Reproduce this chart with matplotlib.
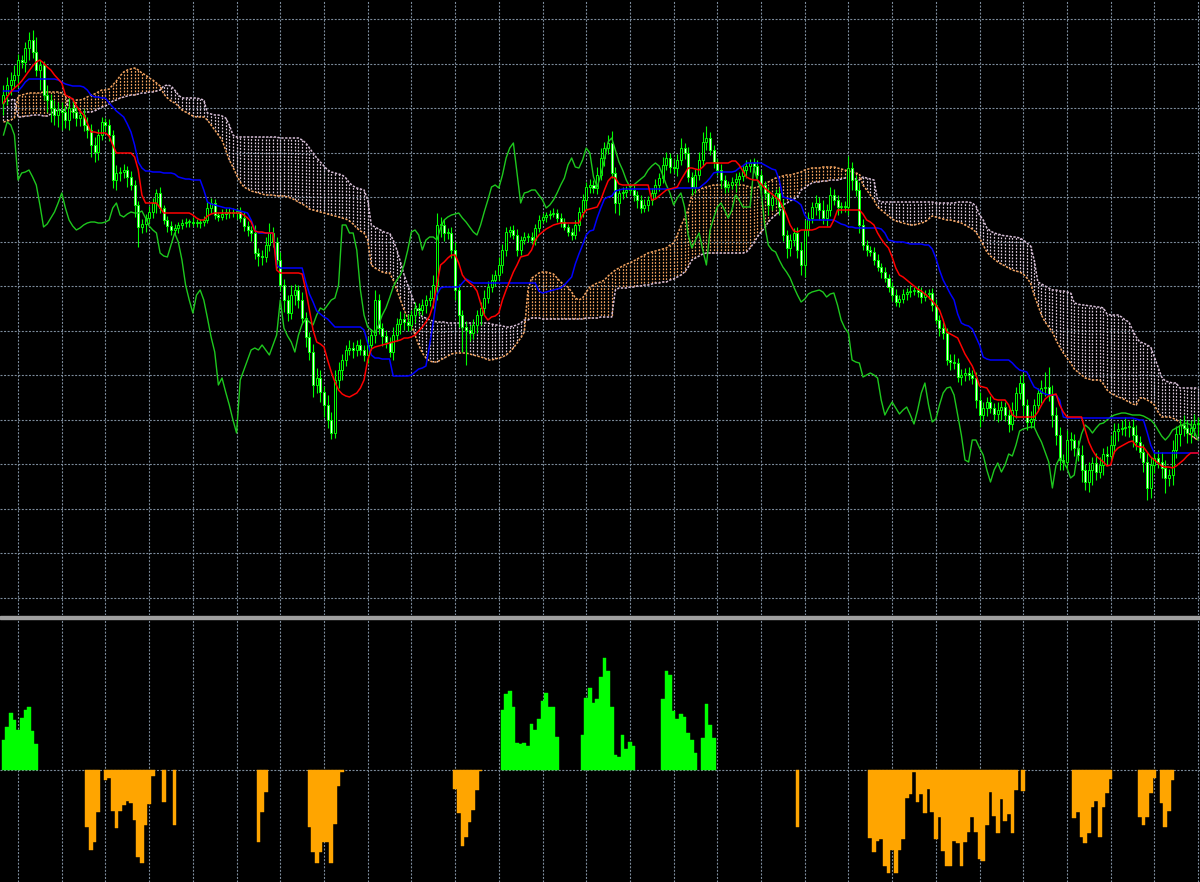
import numpy as np
import matplotlib
matplotlib.use("Agg")
import matplotlib.pyplot as plt
from matplotlib.patches import Rectangle

# Price data (chart points), one value per bar
first_open = 897
close = [
    905, 915, 920, 925, 940, 938, 952, 960, 948, 930, 935, 905,
    900, 892, 885, 890, 888, 880, 892, 888, 882, 885, 875, 870,
    855, 848, 865, 878, 875, 865, 820, 827, 828, 830, 823, 815,
    795, 773, 776, 782, 788, 797, 807, 792, 780, 774, 770, 772,
    775, 777, 778, 778, 777, 777, 778, 780, 792, 797, 785, 783,
    786, 788, 787, 787, 789, 782, 774, 770, 767, 747, 744, 743,
    755, 767, 758, 740, 715, 700, 687, 705, 710, 700, 682, 663,
    648, 615, 622, 608, 595, 580, 567, 620, 630, 640, 650, 652,
    650, 655, 650, 645, 655, 665, 700, 672, 664, 658, 648, 665,
    676, 681, 678, 675, 685, 692, 690, 695, 700, 702, 715, 775,
    775, 767, 767, 750, 710, 685, 673, 670, 667, 675, 685, 692,
    702, 713, 720, 725, 735, 750, 768, 770, 765, 750, 760, 763,
    763, 760, 772, 780, 783, 785, 786, 787, 782, 778, 773, 768,
    765, 775, 788, 800, 813, 815, 812, 825, 842, 852, 857, 827,
    797, 807, 808, 810, 810, 805, 800, 792, 795, 800, 807, 815,
    822, 835, 842, 833, 832, 840, 852, 847, 823, 813, 825, 840,
    858, 862, 850, 838, 830, 820, 813, 815, 818, 821, 824, 830,
    834, 837, 834, 825, 815, 807, 795, 802, 807, 793, 765, 752,
    760, 767, 750, 735, 770, 782, 793, 797, 790, 782, 790, 805,
    800, 793, 793, 793, 832, 820, 810, 775, 755, 750, 748, 740,
    733, 728, 722, 713, 705, 698, 701, 706, 708, 709, 710, 708,
    703, 706, 707, 695, 680, 672, 667, 640, 638, 637, 623, 625,
    627, 625, 622, 600, 585, 592, 598, 592, 586, 590, 593, 585,
    576, 590, 607, 617, 595, 578, 581, 595, 607, 612, 613, 605,
    585, 565, 540, 538, 560, 560, 552, 545, 530, 518, 530, 537,
    528, 535, 546, 544, 555, 569, 571, 572, 573, 573, 565, 558,
    548, 538, 512, 535, 542, 538, 532, 522, 525, 550, 566, 575,
    572, 567, 572, 576, 577,
]
# closes of the bars after the visible window (seen only through the lagging line)
close_after = [580, 583, 585, 586, 587, 587, 586, 585, 585, 585, 584, 582,
               580, 576, 570, 564, 560, 564, 570, 572, 574, 576, 577, 575, 568, 560]

wick_up = [
    10, 8, 8, 10, 6, 5, 6, 8, 10, 15, 5, 4,
    10, 6, 8, 8, 8, 6, 10, 8, 6, 5, 6, 8,
    6, 8, 6, 5, 4, 6, 5, 8, 5, 6, 4, 6,
    5, 4, 5, 4, 6, 5, 4, 6, 3, 4, 5, 4,
    3, 4, 4, 3, 5, 4, 3, 4, 6, 5, 4, 3,
    5, 4, 4, 5, 3, 4, 6, 5, 4, 8, 5, 6,
    8, 10, 6, 5, 8, 6, 5, 10, 6, 5, 8, 6,
    5, 8, 10, 8, 6, 10, 8, 10, 8, 6, 5, 8,
    6, 5, 6, 5, 8, 6, 10, 6, 5, 6, 5, 8,
    6, 8, 6, 8, 5, 6, 5, 6, 5, 8, 10, 12,
    8, 6, 5, 6, 8, 6, 5, 6, 5, 6, 5, 6,
    8, 6, 6, 5, 8, 6, 5, 4, 5, 6, 4, 5,
    4, 5, 4, 5, 4, 3, 4, 5, 4, 5, 4, 3,
    4, 5, 5, 6, 5, 6, 5, 8, 10, 6, 8, 12,
    6, 5, 5, 4, 6, 5, 4, 5, 6, 4, 5, 6,
    5, 8, 6, 5, 8, 6, 10, 5, 6, 5, 6, 8,
    10, 12, 6, 5, 4, 6, 5, 4, 5, 6, 4, 5,
    6, 4, 5, 6, 5, 4, 6, 5, 4, 6, 8, 5,
    6, 5, 6, 8, 10, 6, 5, 8, 6, 10, 6, 8,
    6, 5, 5, 6, 12, 6, 5, 8, 6, 5, 4, 5,
    6, 4, 5, 4, 5, 6, 4, 5, 4, 6, 3, 4,
    5, 4, 4, 5, 6, 5, 6, 5, 6, 8, 5, 6,
    5, 6, 5, 6, 8, 6, 5, 6, 5, 8, 6, 5,
    6, 8, 6, 8, 10, 6, 8, 6, 5, 8, 15, 20,
    10, 8, 8, 6, 10, 8, 6, 8, 10, 6, 8, 6,
    10, 8, 6, 8, 10, 8, 6, 8, 10, 6, 8, 10,
    6, 8, 10, 8, 6, 8, 10, 8, 6, 10, 8, 6,
    10, 8, 8, 10, 6,
]
wick_dn = [
    12, 10, 10, 8, 12, 6, 10, 12, 6, 6, 20, 5,
    12, 14, 10, 12, 18, 8, 10, 6, 8, 8, 6, 8,
    12, 10, 8, 5, 6, 6, 8, 10, 8, 6, 10, 5,
    12, 20, 6, 8, 5, 6, 10, 5, 4, 6, 5, 4,
    5, 4, 4, 5, 3, 4, 5, 4, 3, 5, 4, 4,
    3, 5, 5, 4, 6, 4, 5, 6, 8, 6, 10, 8,
    5, 6, 5, 8, 6, 12, 8, 6, 10, 8, 6, 10,
    8, 12, 8, 10, 12, 8, 6, 5, 8, 10, 6, 5,
    8, 6, 5, 6, 8, 5, 8, 6, 10, 6, 5, 8,
    6, 10, 8, 6, 5, 8, 6, 5, 8, 6, 10, 15,
    12, 8, 6, 8, 10, 12, 25, 35, 8, 6, 8, 10,
    6, 5, 5, 6, 5, 8, 6, 5, 4, 6, 5, 4,
    5, 4, 5, 4, 3, 5, 4, 3, 4, 5, 3, 4,
    5, 4, 6, 5, 8, 6, 5, 6, 5, 8, 6, 5,
    10, 12, 6, 5, 4, 6, 8, 5, 4, 6, 5, 4,
    6, 5, 5, 6, 5, 8, 5, 6, 5, 8, 6, 5,
    6, 8, 5, 6, 5, 8, 6, 5, 4, 10, 6, 5,
    8, 6, 6, 5, 8, 6, 10, 5, 6, 8, 6, 10,
    8, 6, 8, 10, 12, 6, 5, 8, 10, 6, 8, 6,
    5, 8, 6, 5, 8, 10, 6, 8, 5, 6, 4, 5,
    4, 6, 4, 5, 6, 4, 5, 4, 6, 5, 4, 5,
    6, 4, 5, 6, 4, 8, 6, 5, 8, 6, 5, 8,
    6, 5, 6, 8, 12, 6, 8, 5, 6, 8, 10, 6,
    8, 6, 8, 6, 10, 8, 6, 8, 6, 10, 8, 6,
    12, 10, 10, 8, 6, 10, 8, 6, 12, 8, 10, 15,
    8, 6, 10, 8, 6, 8, 10, 6, 8, 10, 12, 8,
    6, 10, 12, 10, 8, 6, 10, 15, 8, 10, 8, 12,
    8, 10, 10, 8, 12,
]

# Ichimoku lines
tenkan = [
    897, 903, 908, 912, 915, 919, 924, 929, 934, 938, 940, 937,
    933, 930, 925, 921, 917, 905, 903, 901, 894, 889, 885, 877,
    868, 868, 867, 867, 867, 864, 855, 847, 847, 847, 847, 847,
    843, 830, 805, 797, 797, 797, 797, 792, 787, 787, 787, 787,
    787, 787, 787, 787, 785, 782, 780, 780, 784, 786, 787, 787,
    787, 787, 787, 787, 787, 787, 785, 782, 778, 769, 768, 768,
    767, 767, 767, 730, 727, 727, 727, 727, 727, 727, 726, 710,
    690, 670, 658, 656, 653, 640, 628, 618, 610, 606, 604, 603,
    605, 607, 612, 620, 640, 651, 653, 654, 655, 656, 657, 658,
    659, 660, 662, 662, 663, 665, 669, 673, 678, 684, 695, 715,
    735, 738, 742, 745, 745, 737, 725, 720, 717, 714, 709, 697,
    685, 680, 683, 684, 687, 700, 710, 719, 728, 735, 743, 744,
    745, 750, 760, 765, 768, 771, 773, 775, 776, 777, 777, 777,
    777, 777, 777, 785, 790, 791, 792, 793, 800, 810, 819, 823,
    822, 816, 815, 815, 815, 815, 815, 815, 815, 815, 800, 801,
    804, 807, 810, 811, 812, 813, 820, 826, 832, 832, 831, 830,
    833, 837, 837, 837, 837, 837, 837, 837, 839, 839, 835, 829,
    823, 821, 820, 820, 816, 812, 809, 806, 803, 800, 793, 785,
    775, 769, 768, 770, 770, 770, 770, 771, 773, 773, 773, 773,
    780, 790, 790, 790, 790, 790, 790, 790, 786, 780, 778, 775,
    767, 761, 756, 752, 743, 732, 725, 723, 720, 717, 714, 711,
    709, 706, 703, 699, 695, 690, 680, 668, 666, 664, 662, 654,
    646, 640, 634, 625, 614, 613, 612, 606, 601, 600, 600, 600,
    595, 585, 583, 583, 583, 583, 583, 583, 588, 595, 601, 604,
    605, 606, 595, 588, 583, 583, 583, 583, 583, 570, 558, 550,
    544, 541, 538, 534, 535, 548, 552, 554, 556, 558, 559, 554,
    553, 553, 548, 543, 540, 537, 534, 533, 533, 532, 534, 537,
    540, 544, 547, 547, 547,
]
kijun = [
    909, 909, 909, 909, 909, 913, 918, 921, 921, 921, 921, 921,
    921, 921, 921, 920, 918, 916, 915, 914, 914, 914, 913, 910,
    905, 903, 903, 902, 902, 897, 893, 889, 886, 883, 876, 868,
    855, 838, 832, 829, 829, 828, 828, 828, 827, 827, 827, 826,
    823, 822, 821, 821, 820, 820, 820, 810, 798, 796, 795, 794,
    793, 792, 792, 791, 790, 789, 788, 787, 780, 770, 767, 767,
    767, 767, 767, 735, 732, 732, 732, 732, 732, 732, 732, 718,
    706, 698, 689, 686, 683, 681, 677, 673, 673, 673, 673, 673,
    673, 673, 673, 670, 657, 645, 642, 642, 641, 641, 641, 624,
    624, 624, 624, 624, 625, 628, 631, 632, 634, 655, 678, 705,
    712, 713, 713, 713, 713, 713, 717, 721, 719, 717, 717, 717,
    717, 717, 717, 717, 717, 717, 717, 717, 717, 717, 717, 717,
    717, 717, 717, 709, 707, 708, 709, 710, 711, 712, 715, 719,
    723, 736, 746, 755, 765, 769, 770, 782, 792, 801, 803, 804,
    809, 810, 811, 811, 811, 811, 811, 811, 811, 811, 811, 811,
    811, 811, 811, 811, 811, 812, 812, 812, 812, 812, 812, 812,
    815, 818, 822, 827, 828, 828, 828, 828, 828, 829, 832, 834,
    837, 837, 837, 837, 837, 835, 833, 831, 830, 820, 803, 802,
    801, 800, 798, 795, 785, 780, 780, 780, 780, 780, 780, 780,
    780, 778, 776, 775, 773, 773, 772, 772, 772, 772, 772, 772,
    772, 771, 767, 760, 759, 758, 758, 758, 757, 756, 756, 756,
    756, 755, 755, 751, 742, 730, 720, 713, 706, 700, 686, 677,
    675, 674, 671, 663, 655, 643, 641, 640, 640, 640, 640, 640,
    640, 637, 633, 630, 629, 628, 620, 613, 611, 608, 606, 605,
    605, 605, 600, 583, 582, 582, 582, 582, 582, 582, 582, 582,
    582, 582, 582, 582, 582, 582, 582, 582, 582, 582, 582, 581,
    580, 580, 568, 555, 547, 547, 547, 547, 547, 547, 547, 547,
    547, 547, 547, 547, 547,
]
span_a = [
    878, 879, 880, 882, 904, 905, 906, 907, 907, 907, 907, 908,
    908, 908, 908, 908, 907, 905, 889, 888, 900, 900, 901, 903,
    905, 906, 908, 910, 910, 911, 915, 919, 924, 928, 930, 931,
    932, 930, 927, 925, 922, 920, 917, 914, 906, 902, 899, 897,
    894, 890, 888, 886, 884, 883, 883, 883, 880, 875, 870, 865,
    860, 850, 840, 833, 825, 818, 813, 811, 809, 808, 807, 806,
    805, 805, 805, 804, 804, 804, 803, 802, 800, 798, 796, 794,
    791, 790, 789, 788, 787, 786, 785, 784, 783, 782, 781, 779,
    776, 772, 769, 767, 760, 735, 732, 730, 728, 727, 727, 720,
    710, 700, 690, 682, 675, 665, 655, 647, 642, 639, 638, 638,
    640, 642, 644, 646, 647, 647, 647, 647, 646, 645, 644, 643,
    642, 640, 640, 641, 642, 643, 645, 648, 652, 657, 662, 668,
    710, 722, 724, 727, 728, 728, 727, 726, 722, 718, 715, 713,
    708, 702, 700, 702, 708, 713, 715, 717, 718, 720, 724, 727,
    730, 732, 734, 736, 737, 739, 741, 743, 745, 747, 748, 749,
    750, 751, 752, 755, 757, 765, 774, 782, 790, 805, 808, 810,
    812, 813, 814, 815, 815, 815, 815, 815, 815, 815, 815, 815,
    814, 813, 812, 813, 814, 816, 818, 820, 822, 823, 824, 825,
    825, 826, 827, 828, 830, 831, 832, 832, 832, 833, 833, 833,
    833, 832, 831, 830, 829, 828, 827, 826, 815, 810, 805, 800,
    793, 790, 787, 784, 781, 779, 778, 777, 776, 775, 775, 776,
    777, 778, 781, 784, 783, 782, 781, 780, 780, 779, 778, 777,
    775, 773, 771, 768, 762, 755, 748, 744, 741, 738, 736, 734,
    732, 730, 729, 728, 726, 722, 717, 705, 695, 685, 678, 673,
    668, 660, 653, 647, 642, 637, 631, 628, 625, 622, 621, 620,
    620, 620, 616, 610, 607, 605, 603, 602, 600, 598, 596, 595,
    602, 602, 600, 598, 595, 588, 583, 583, 583, 582, 580, 578,
    574, 568, 565, 562, 560,
]
span_b = [
    898, 899, 900, 901, 883, 883, 884, 884, 885, 885, 885, 884,
    884, 886, 889, 890, 890, 890, 903, 901, 887, 887, 888, 888,
    888, 889, 891, 893, 894, 896, 899, 900, 902, 903, 904, 905,
    905, 906, 907, 907, 908, 908, 909, 910, 914, 915, 914, 910,
    905, 902, 902, 902, 902, 902, 901, 900, 887, 886, 885, 885,
    884, 882, 875, 865, 863, 863, 863, 863, 863, 863, 863, 863,
    863, 863, 863, 863, 862, 862, 862, 862, 862, 862, 860, 857,
    852, 847, 842, 838, 834, 830, 828, 827, 826, 825, 822, 817,
    814, 812, 811, 810, 800, 775, 773, 771, 769, 767, 767, 760,
    750, 738, 725, 715, 705, 695, 688, 683, 682, 680, 679, 678,
    678, 678, 677, 677, 677, 677, 677, 677, 677, 677, 677, 677,
    677, 677, 676, 675, 675, 674, 673, 673, 674, 675, 677, 680,
    680, 682, 682, 682, 681, 681, 681, 681, 681, 681, 681, 681,
    681, 681, 681, 681, 682, 682, 682, 682, 683, 683, 683, 683,
    710, 712, 712, 712, 713, 713, 714, 714, 715, 715, 716, 717,
    717, 718, 718, 720, 721, 723, 725, 728, 733, 740, 742, 744,
    746, 747, 747, 747, 747, 747, 747, 747, 747, 747, 747, 747,
    748, 752, 757, 763, 768, 772, 778, 782, 785, 788, 795, 797,
    799, 801, 803, 810, 812, 815, 817, 818, 818, 819, 819, 820,
    820, 820, 821, 822, 822, 822, 821, 820, 823, 822, 821, 820,
    800, 798, 798, 798, 798, 798, 798, 798, 798, 798, 798, 798,
    798, 798, 798, 798, 797, 797, 797, 797, 797, 797, 798, 798,
    798, 798, 797, 794, 785, 780, 772, 769, 767, 766, 765, 764,
    764, 763, 763, 762, 760, 757, 754, 740, 718, 716, 714, 712,
    710, 710, 709, 709, 708, 707, 697, 696, 695, 695, 694, 694,
    693, 693, 692, 686, 685, 685, 685, 683, 680, 678, 670, 663,
    658, 657, 655, 653, 643, 633, 623, 619, 618, 617, 617, 612,
    612, 612, 612, 612, 612,
]

# Lower oscillator histogram
hist = (
    [30, 43, 57, 50, 40, 52, 60, 63, 39, 26] + [0] * 13
    + [-57, -80, -72, -42, 0]
    + [-10, -8, -41, -58, -41, -35, -31, -33, -50, -87, -93, -55, -34, -6]
    + [0, 0, -32, 0, 0, -55] + [0] * 22
    + [-72, -42, -22] + [0] * 11
    + [-57, -82, -93, -82, -72, -72, -93, -54, -16, -2] + [0] * 30
    + [-19, -43, -76, -67, -52, -40, -20, -1] + [0] * 5
    + [60, 76, 79, 63, 27, 26, 27, 24, 46, 40, 51, 69, 77, 63, 63, 33] + [0] * 6
    + [35, 72, 82, 67, 71, 93, 112, 99, 63, 15, 13, 35, 21, 28, 24] + [0] * 7
    + [71, 99, 95, 59, 51, 56, 53, 37, 30, 17, 0, 32, 66, 45, 32] + [0] * 22
    + [-57] + [0] * 19
    + [-68, -82, -71, -69, -96, -103, -80, -103, -80, -69, -28, -24, -2, -32,
       -24, -43, -19, -42, -69, -47, -81, -96, -96, -71, -73, -96, -72, -62,
       -47, -62, -89, -91, -55, -22, -46, -63, -29, -51, -44, -63, -20]
    + [0, -21] + [0] * 13
    + [-48, -42, -67, -73, -63, -37, -31, -67, -37, -23, -9] + [0] * 7
    + [-47, -55, -47, -23, -8, 0, -33, -57, -41, -10] + [0] * 7
)

n = len(close)
x = np.arange(n)
c = np.array(close, float)
o = np.r_[first_open, c[:-1]]
hi = np.maximum(o, c) + np.array(wick_up[:n])
lo = np.minimum(o, c) - np.array(wick_dn[:n])
chikou = np.r_[c[26:], close_after][:n]
span_a = np.array(span_a[:n], float)
span_b = np.array(span_b[:n], float)
hist = np.array(hist[:n], float)

W, H = 1200, 882
MAIN_H = 615
fig = plt.figure(figsize=(W / 100, H / 100), dpi=100, facecolor='black')
ax = fig.add_axes([0, (H - MAIN_H) / H, 1, MAIN_H / H], facecolor='black')
ax2 = fig.add_axes([0, 0, 1, (H - 619) / H], facecolor='black')

grid_kw = dict(color='#7d8c9c', linestyle=(0, (1.8, 1.4)), linewidth=0.8)
xl = (-0.96, 328.53)
for a in (ax, ax2):
    a.set_xlim(xl)
    a.set_xticks(np.arange(4, n, 12))
    a.grid(True, **grid_kw)
    a.set_axisbelow(True)
    a.tick_params(length=0, labelbottom=False, labelleft=False)
    for s in a.spines.values():
        s.set_visible(False)

y_lo, y_hi = 385, 1000
ax.set_ylim(y_lo, y_hi)
ax.set_yticks(np.arange(402.2, 1000, 44.5))

# kumo hatching: dotted vertical strokes, dots kept in phase across columns
pt_per_unit = (MAIN_H / (y_hi - y_lo)) * 72 / 100
dash_on, dash_off = 1.4, 1.2
period = dash_on + dash_off
k_lo = np.minimum(span_a, span_b)
k_hi = np.maximum(span_a, span_b)
up = span_a >= span_b
for is_up, col in ((True, '#f4a460'), (False, '#dccadc')):
    sel = up == is_up
    styles = [(((v - y_lo) * pt_per_unit) % period, (dash_on, dash_off)) for v in k_lo[sel]]
    ax.vlines(x[sel], k_lo[sel], k_hi[sel], colors=col, linestyles=styles,
              linewidth=0.9, zorder=2)
ax.plot(x, span_a, color='#f4a460', ls=(0, (1.5, 1.0)), lw=1.1, zorder=2)
ax.plot(x, span_b, color='#d8bfd8', ls=(0, (1.5, 1.0)), lw=1.1, zorder=2)

# candles
ax.vlines(x, lo, hi, color='#00ff00', linewidth=0.8, zorder=3)
bull = c >= o
body_lo = np.minimum(o, c)
body_h = np.maximum(np.abs(c - o), 1.0)
ax.bar(x[bull], body_h[bull], bottom=body_lo[bull], width=0.55,
       color='black', edgecolor='#00ff00', linewidth=0.7, zorder=3)
ax.bar(x[~bull], body_h[~bull], bottom=body_lo[~bull], width=0.55,
       color='#e8ffe8', edgecolor='#00ff00', linewidth=0.7, zorder=3)

# lines
ax.plot(x, chikou, color='#1ec81e', lw=1.0, zorder=4)
ax.plot(x, kijun[:n], color='#0000ff', lw=1.1, zorder=4)
ax.plot(x, tenkan[:n], color='#ff0000', lw=1.1, zorder=4)

# separator between windows
fig.add_artist(Rectangle((0, (H - 618.5) / H), 1, 3 / H, transform=fig.transFigure,
                         color='#a0a0a0', zorder=10))

# histogram window
ax2.set_ylim(-112, 151)
ax2.set_yticks([0])
hcol = np.where(hist > 0, '#00ff00', '#ffa500')
mask = hist != 0
ax2.bar(x[mask], hist[mask], width=1.0, color=hcol[mask],
        edgecolor=hcol[mask], linewidth=0.3, zorder=3)

fig.savefig('out.png', dpi=100, facecolor='black')
